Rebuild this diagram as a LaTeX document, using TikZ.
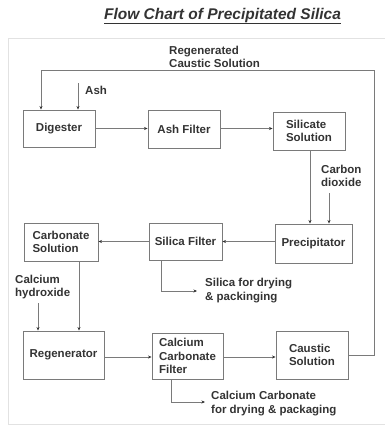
\documentclass[tikz,border=0pt]{standalone}
\usepackage{fontspec}
\setmainfont{Liberation Sans}
\usetikzlibrary{arrows.meta}
\definecolor{txt}{HTML}{333333}
\definecolor{ln}{HTML}{7A7A7A}
\definecolor{frm}{HTML}{E2E2E2}
\begin{document}
\begin{tikzpicture}[x=1pt,y=-1pt,
  box/.style={draw=ln,line width=0.9pt,rectangle,align=left,text=txt,
    font=\fontsize{11.5}{13.5}\selectfont\bfseries,inner sep=2pt},
  lbl/.style={align=left,text=txt,anchor=west,inner sep=0pt,
    font=\fontsize{11.5}{13.5}\selectfont\bfseries},
  arr/.style={draw=ln,line width=0.9pt,-{Stealth[length=3.5pt,width=3pt,color=txt]}},
  ln/.style={draw=ln,line width=0.9pt}]
\useasboundingbox (0,0) rectangle (385,426);
\draw[frm,line width=0.8pt] (8,38) -- (390,38);
\draw[frm,line width=0.8pt] (8,38) -- (8,424) -- (390,424);
\node[text=txt,font=\fontsize{15.5}{18}\selectfont\bfseries\itshape] (title) at (222.5,16) {\underline{Flow Chart of Precipitated Silica}};
% boxes
\node[box,minimum width=72pt,minimum height=37pt] (dig) at (59,128.5) {Digester};
\node[box,minimum width=72pt,minimum height=38pt] (ash) at (184,129) {Ash Filter};
\node[box,minimum width=72pt,minimum height=38pt] (sil) at (309,131) {Silicate\\Solution};
\node[box,minimum width=77pt,minimum height=39pt] (pre) at (313.5,243.5) {Precipitator};
\node[box,minimum width=73pt,minimum height=37pt] (sf) at (185.5,241.5) {Silica Filter};
\node[box,minimum width=74pt,minimum height=38pt] (cs) at (61,242) {Carbonate\\Solution};
\node[box,minimum width=81pt,minimum height=48pt] (reg) at (63.5,355) {Regenerator};
\node[box,minimum width=71pt,minimum height=46pt] (ccf) at (187.5,356) {Calcium\\Carbonate\\Filter};
\node[box,minimum width=72pt,minimum height=48pt] (cau) at (312,355) {Caustic\\Solution};
% labels
\node[lbl] (lregen) at (169,57) {Regenerated\\Caustic Solution};
\node[lbl] (lash) at (85,90) {Ash};
\node[lbl] (lco2) at (321,176) {Carbon\\dioxide};
\node[lbl] (lsil) at (205,290.5) {Silica for drying\\\& packinging};
\node[lbl] (lcaoh) at (15,287) {Calcium\\hydroxide};
\node[lbl] (lcc) at (211,403.5) {Calcium Carbonate\\for drying \& packaging};
% coordinates
\coordinate (ashin) at (78,83);
\coordinate (co2in) at (329,193);
\coordinate (caohin) at (38,303);
\coordinate (sfout) at (197,291);
\coordinate (ccout) at (205,402);
\coordinate (rc1) at (374,355);
\coordinate (rc2) at (374,70);
\coordinate (rc3) at (41,70);
% connectors
\draw[arr] (dig.east) -- (dig.east -| ash.west);
\draw[arr] (ash.east |- dig.east) -- (sil.west |- dig.east);
\draw[arr] ([xshift=1pt]sil.south) -- ([xshift=1pt]sil.south |- pre.north);
\draw[arr] (co2in) -- (co2in |- pre.north);
\draw[arr] (pre.west |- sf.east) -- (sf.east);
\draw[arr] (sf.west) -- (sf.west -| cs.east);
\draw[arr] ([xshift=-24.5pt]sf.south) |- (sfout);
\draw[arr] ([xshift=18pt]cs.south) -- ([xshift=18pt]cs.south |- reg.north);
\draw[arr] (caohin) -- (caohin |- reg.north);
\draw[arr] ([yshift=-2pt]reg.east) -- ([yshift=-2pt]reg.east -| ccf.west);
\draw[arr] ([yshift=-2pt]ccf.east |- reg.east) -- ([yshift=-2pt]cau.west |- reg.east);
\draw[arr] ([xshift=-16.5pt]ccf.south) |- (ccout);
\draw[arr] (cau.east) -- (rc1) -- (rc2) -- (rc3) -- (rc3 |- dig.north);
\draw[arr] (ashin) -- (ashin |- dig.north);
\end{tikzpicture}
\end{document}
